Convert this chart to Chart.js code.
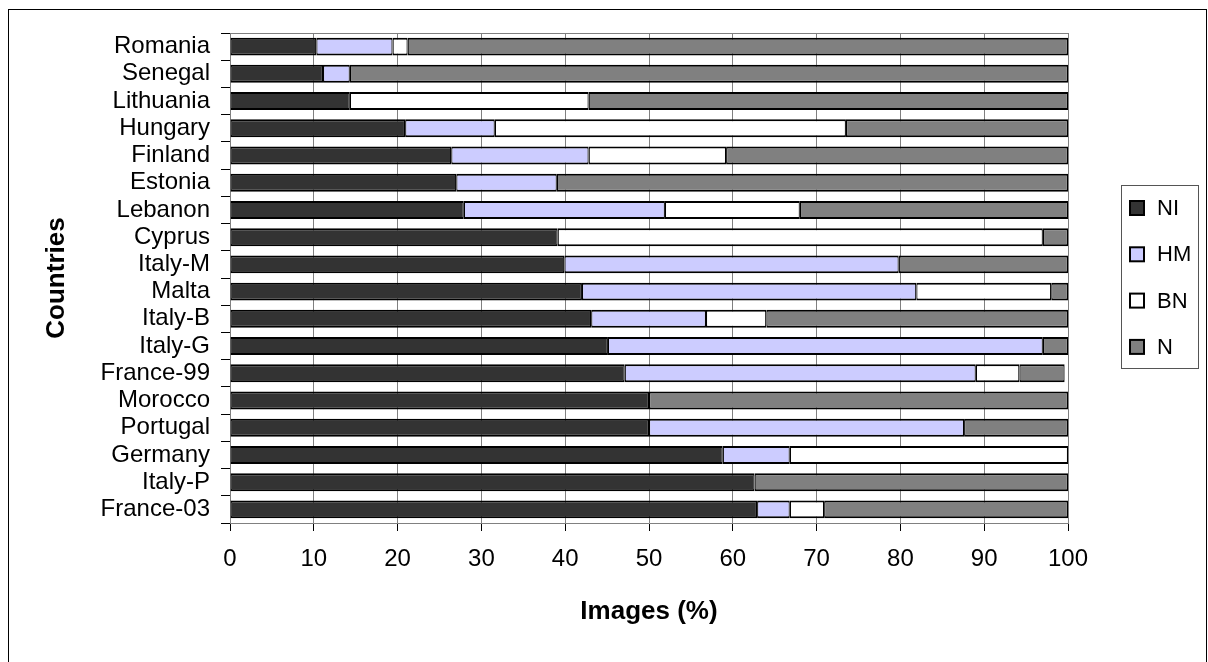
<!DOCTYPE html>
<html>
<head>
<meta charset="utf-8">
<script src="https://cdn.jsdelivr.net/npm/chart.js@4"></script>
<style>
  html, body { margin: 0; padding: 0; background: #fff; }
  #wrap { width: 1208px; height: 662px; position: relative; }
</style>
</head>
<body>
<div id="wrap"><canvas id="c" width="1208" height="662"></canvas></div>
<script>
const categories = ['Romania','Senegal','Lithuania','Hungary','Finland','Estonia','Lebanon','Cyprus','Italy-M','Malta','Italy-B','Italy-G','France-99','Morocco','Portugal','Germany','Italy-P','France-03'];
const NI = [10.3, 11.1, 14.3, 20.9, 26.4, 27.0, 27.9, 39.1, 39.9, 42.0, 43.1, 45.1, 47.1, 50.0, 50.0, 58.8, 62.6, 62.9];
const HM = [9.1, 3.2, 0, 10.7, 16.4, 12.0, 24.0, 0, 39.9, 39.9, 13.7, 51.9, 41.9, 0, 37.6, 8.0, 0, 3.9];
const BN = [1.8, 0, 28.5, 41.9, 16.4, 0, 16.1, 57.9, 0, 16.1, 7.2, 0, 5.2, 0, 0, 33.2, 0, 4.1];
const N  = [78.8, 85.7, 57.2, 26.5, 40.8, 61.0, 32.0, 3.0, 20.2, 2.0, 36.0, 3.0, 5.4, 50.0, 12.4, 0, 37.4, 29.1];
const seriesNames = ['NI', 'HM', 'BN', 'N'];
const seriesColors = ['#333333', '#CCCCFF', '#FFFFFF', '#808080'];
const xTicks = [0, 10, 20, 30, 40, 50, 60, 70, 80, 90, 100];

const FONT = "'Liberation Sans', Arial, Helvetica, sans-serif";
const PAD_LEFT = 37.4;

const seriesData = [NI, HM, BN, N];
const datasets = seriesData.map((d, i) => ({
  label: seriesNames[i],
  data: d,
  backgroundColor: seriesColors[i],
  borderColor: '#000000',
  borderWidth: (ctx) => (ctx.raw ? {top: 2, bottom: 2, left: 1.2, right: 1.2} : 0),
  borderSkipped: false,
  barPercentage: 0.66,
  categoryPercentage: 1.0
}));

const framePlugin = {
  id: 'frame',
  beforeDraw(chart) {
    const ctx = chart.ctx;
    ctx.save();
    ctx.fillStyle = '#fff';
    ctx.fillRect(0, 0, chart.width, chart.height);
    ctx.restore();
  },
  afterDraw(chart) {
    const ctx = chart.ctx;
    const a = chart.chartArea;
    ctx.save();
    // outer frame
    ctx.strokeStyle = '#000';
    ctx.lineWidth = 1;
    ctx.strokeRect(8.5, 9.5, 1198, 700);
    // top border of plot area
    ctx.strokeStyle = '#808080';
    ctx.beginPath();
    ctx.moveTo(a.left, Math.round(a.top) + 0.5);
    ctx.lineTo(a.right, Math.round(a.top) + 0.5);
    ctx.stroke();
    // legend
    const lx = 1121, ly = 185, lw = 77, lh = 183;
    ctx.strokeStyle = '#555';
    ctx.strokeRect(lx + 0.5, ly + 0.5, lw, lh);
    ctx.font = '22px ' + FONT;
    ctx.textBaseline = 'middle';
    ctx.textAlign = 'left';
    chart.data.datasets.forEach((ds, i) => {
      const cy = 208 + i * 46.3;
      ctx.fillStyle = ds.backgroundColor;
      ctx.fillRect(1130, cy - 7, 14, 14);
      ctx.strokeStyle = '#000';
      ctx.lineWidth = 2;
      ctx.strokeRect(1130, cy - 7, 14, 14);
      ctx.fillStyle = '#000';
      ctx.fillText(ds.label, 1157, cy + 1);
    });
    ctx.restore();
  }
};

new Chart(document.getElementById('c'), {
  type: 'bar',
  data: { labels: categories, datasets: datasets },
  options: {
    indexAxis: 'y',
    responsive: false,
    animation: false,
    layout: { padding: { left: PAD_LEFT, right: 140, top: 33, bottom: 30.4 } },
    plugins: { legend: { display: false }, tooltip: { enabled: false } },
    scales: {
      x: {
        stacked: true,
        min: 0, max: 100,
        afterBuildTicks: (s) => { s.ticks = xTicks.map(v => ({ value: v })); },
        afterFit: (s) => { s.height = 108.6; },
        grid: { color: '#808080', lineWidth: 1, tickColor: '#000', tickLength: 8, drawTicks: true },
        border: { display: true, color: '#808080' },
        ticks: { color: '#000', font: { family: FONT, size: 24 }, padding: 14, maxRotation: 0 },
        title: { display: true, text: 'Images (%)', color: '#000', font: { family: FONT, size: 26, weight: 'bold' }, padding: { top: 4, bottom: 4 } }
      },
      y: {
        stacked: true,
        afterFit: (s) => { s.width = 230 - PAD_LEFT; },
        grid: { drawOnChartArea: false, tickColor: '#000', tickLength: 9, offset: true },
        border: { display: true, color: '#808080' },
        ticks: { color: '#000', font: { family: FONT, size: 24 }, padding: 11, autoSkip: false },
        title: { display: true, text: 'Countries', color: '#000', font: { family: FONT, size: 26, weight: 'bold' }, padding: { top: 4, bottom: 4 } }
      }
    }
  },
  plugins: [framePlugin]
});
</script>
</body>
</html>
